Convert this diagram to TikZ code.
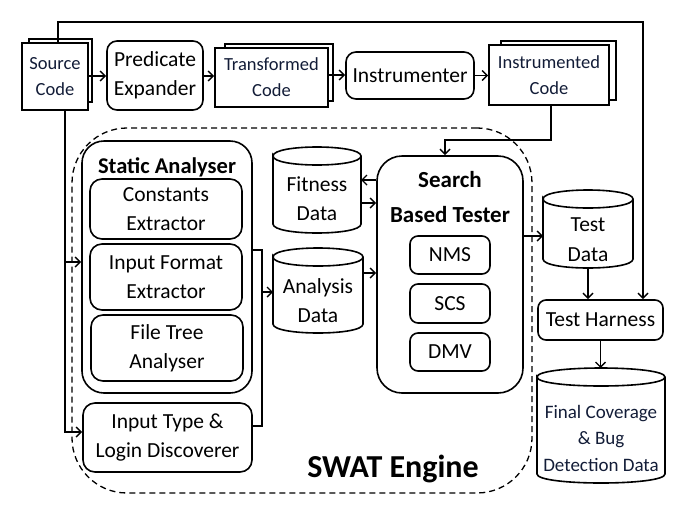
\documentclass[tikz,border=0pt]{standalone}
\usepackage{fontspec}
\setmainfont{Carlito}
\usetikzlibrary{arrows.meta}
\definecolor{navy}{RGB}{18,28,55}
\newcommand\bx[7]{\node[#6, minimum width={#4-#2}, minimum height={#5-#3}] (#1) at ({(#2+#4)/2},{(#3+#5)/2}) {#7};}
\newcommand\cyl[5]{%
 \node[ghost, minimum width={#4-#2}, minimum height={#5-#3}] (#1) at ({(#2+#4)/2},{(#3+#5)/2}) {};
 \draw[box] (#2,#3+9) .. controls (#2,#3-3) and (#4,#3-3) .. (#4,#3+9) .. controls (#4,#3+21) and (#2,#3+21) .. (#2,#3+9) -- (#2,#5-9) .. controls (#2,#5+3) and (#4,#5+3) .. (#4,#5-9) -- (#4,#3+9);}
\tikzset{
 box/.style={draw, line width=1.6pt},
 ghost/.style={inner sep=0pt, outer sep=0pt},
 rbox/.style={box, rounded corners=#1, fill=white, inner sep=0pt, align=center, tnorm},
 rbox/.default=10pt,
 doc/.style={box, fill=white, inner sep=0pt, align=center, tcode},
 frame/.style={draw, line width=1.3pt, dash pattern=on 6pt off 4pt, rounded corners=55pt, inner sep=0pt},
 tnorm/.style={font=\fontsize{21.5}{29}\selectfont},
 tcode/.style={font=\fontsize{18.5}{26}\selectfont, text=navy},
 ttitle/.style={font=\bfseries\fontsize{22.5}{35}\selectfont, align=center},
 arr/.style={line width=1.4pt, -{Straight Barb[length=5pt,width=10pt,line width=1.4pt]}},
 ln/.style={line width=1.4pt},
 txt/.style={inner sep=0pt, align=center}
}
\begin{document}
\begin{tikzpicture}[x=1pt,y=-1pt]
\useasboundingbox (0,0) rectangle (684,517);
% SWAT engine frame
\bx{swat}{72}{128}{532}{493}{frame}{}
\node[txt, font=\bfseries\fontsize{32}{32}\selectfont] (swatl) at (393,469) {SWAT Engine};
% top row
\draw[box, fill=white] (29,39) rectangle (92,102);
\bx{src}{22}{43}{88}{110}{doc}{Source\\Code}
\bx{pe}{107}{41}{203}{110}{rbox}{Predicate\\Expander}
\draw[box, fill=white] (225,44) rectangle (333,101);
\bx{tc}{215}{48}{328}{107}{doc}{Transformed\\Code}
\bx{ins}{346}{52}{474}{99}{rbox}{Instrumenter}
\draw[box, fill=white] (501,41) rectangle (616,100);
\bx{ic}{489}{45}{609}{105}{doc}{Instrumented\\Code}
% static analyser
\bx{sa}{82}{141}{252}{393}{rbox=22pt}{}
\node[txt, ttitle] (sal) at (167,167) {Static Analyser};
\bx{ce}{90}{179}{242}{239}{rbox=12pt}{Constants\\Extractor}
\bx{ife}{90}{244}{242}{310}{rbox=12pt}{Input Format\\Extractor}
\bx{fta}{91}{315}{243}{381}{rbox=12pt}{File Tree\\Analyser}
\bx{itl}{83}{403}{252}{472}{rbox=12pt}{Input Type \&\\Login Discoverer}
% data stores
\cyl{fit}{273}{147}{361}{233}
\node[txt, tnorm] (fitl) at (317,199) {Fitness\\Data};
\cyl{ad}{273}{248}{363}{333}
\node[txt, tnorm] (adl) at (318,301) {Analysis\\Data};
% search based tester
\bx{sbt}{377}{156}{523}{393}{rbox=25pt}{}
\node[txt, ttitle, font=\bfseries\fontsize{23}{35}\selectfont] (sbtl) at (450,197) {Search\\Based Tester};
\bx{nms}{410}{236}{490}{274}{rbox=8pt}{NMS}
\bx{scs}{410}{284}{490}{323}{rbox=8pt}{SCS}
\bx{dmv}{410}{333}{490}{371}{rbox=8pt}{DMV}
% right column
\cyl{td}{543}{190}{633}{268}
\node[txt, font=\fontsize{21.5}{30}\selectfont] (tdl) at (588,240) {Test\\Data};
\bx{th}{538}{300}{663}{340}{rbox=8pt}{Test Harness}
\cyl{fc}{537}{368}{665}{483}
\node[txt, tcode, font=\fontsize{19}{26.5}\selectfont] (fcl) at (601,438) {Final Coverage\\\& Bug\\Detection Data};
% coordinates
\coordinate (topr) at (643,22);
\coordinate (icb) at (551,140);
\coordinate (icb2) at (445,140);
\coordinate (sl) at (65,262);
\coordinate (sl2) at (65,432);
\coordinate (sar) at (262,250);
\coordinate (sar2) at (262,426);
\coordinate (sam) at (262,292);
% connectors
\draw[arr] (src.east |- 0,76) -- (pe.west |- 0,76);
\draw[arr] (pe.east |- 0,76) -- (tc.west |- 0,76);
\draw[arr] (tc.east |- 0,75) -- (ins.west |- 0,75);
\draw[arr] (ins.east) -- (ins.east -| ic.west);
\draw[arr] ([xshift=3pt]src.north) |- (topr) -- (topr |- th.north);
\draw[arr] (ic.south -| icb) -- (icb) -- (icb2) -- (icb2 |- sbt.north);
\draw[arr] (src.south -| sl) -- (sl2) -- (sl2 -| itl.west);
\draw[arr] (sl) -- (sl -| sa.west);
\draw[ln] (sa.east |- sar) -- (sar) -- (sar2) -- (itl.east |- sar2);
\draw[arr] (sam) -- (sam -| ad.west);
\draw[arr] (sbt.west |- 0,180) -- (fit.east |- 0,180);
\draw[arr] (fit.east |- 0,203) -- (sbt.west |- 0,203);
\draw[arr] (ad.east |- 0,273) -- (sbt.west |- 0,273);
\draw[arr] (sbt.east |- 0,236) -- (td.west |- 0,236);
\draw[arr] (td.south) -- (th.north -| td.south);
\draw[arr] (th.south) -- (fc.north -| th.south);
\end{tikzpicture}
\end{document}
